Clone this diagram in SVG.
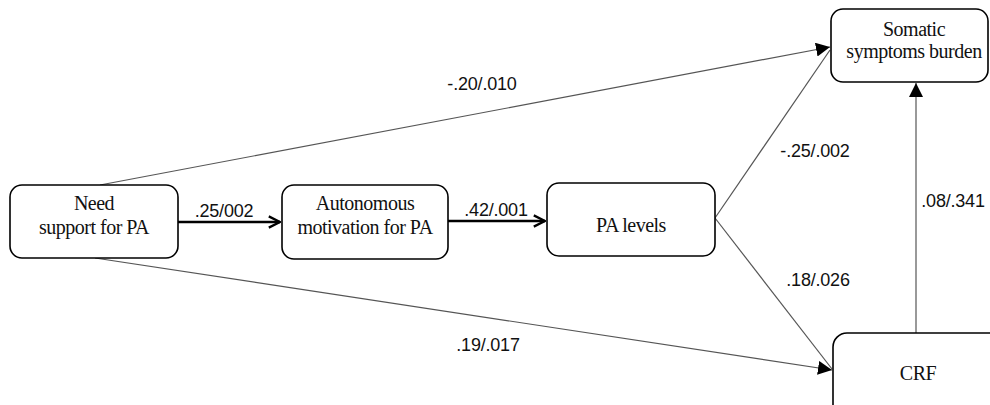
<svg xmlns="http://www.w3.org/2000/svg" width="990" height="405" viewBox="0 0 990 405">
<defs>
<style>
.box{fill:#fff;stroke:#000;stroke-width:1.6}
.nt{font-family:"Liberation Serif","Times New Roman",serif;font-size:20px;letter-spacing:-0.5px;fill:#111;text-anchor:middle}
.lb{font-family:"Liberation Sans",Arial,sans-serif;font-size:18px;letter-spacing:-0.2px;fill:#111;text-anchor:middle}
.thin{stroke:#555;stroke-width:1.2;fill:none}
.thick{stroke:#000;stroke-width:2.4;fill:none}
</style>
<marker id="fh" viewBox="0 0 10 10" refX="10" refY="5" markerWidth="14" markerHeight="14" markerUnits="userSpaceOnUse" orient="auto">
<path d="M0,0 L10,5 L0,10 Z" fill="#000"/>
</marker>
<marker id="oh" viewBox="0 0 10 10" refX="9" refY="5" markerWidth="14" markerHeight="14" markerUnits="userSpaceOnUse" orient="auto">
<path d="M1,1 L9,5 L1,9" fill="none" stroke="#000" stroke-width="1.7"/>
</marker>
</defs>
<rect width="990" height="405" fill="#fff"/>
<g id="connectors">
<line class="thin" x1="100" y1="185" x2="830" y2="47" marker-end="url(#fh)"/>
<line class="thin" x1="715" y1="218" x2="830" y2="50"/>
<line class="thin" x1="95" y1="258" x2="832" y2="370" marker-end="url(#fh)"/>
<line class="thin" x1="715" y1="218" x2="832" y2="369"/>
<line class="thin" x1="916" y1="333" x2="916" y2="83" marker-end="url(#fh)"/>
<line class="thick" x1="178" y1="222" x2="280" y2="222" marker-end="url(#oh)"/>
<line class="thick" x1="448" y1="221" x2="545" y2="221" marker-end="url(#oh)"/>
<text class="lb" x="482" y="90">-.20/.010</text>
<text class="lb" x="224" y="217">.25/002</text>
<text class="lb" x="496" y="216">.42/.001</text>
<text class="lb" x="815" y="157">-.25/.002</text>
<text class="lb" x="818" y="286">.18/.026</text>
<text class="lb" x="953" y="207">.08/.341</text>
<text class="lb" x="488" y="351">.19/.017</text>
</g>
<g id="need">
<rect class="box" x="10" y="185" width="168" height="73" rx="12"/>
<text class="nt" x="94" y="210">Need</text>
<text class="nt" x="94" y="234">support for PA</text>
</g>
<g id="autonomous">
<rect class="box" x="282" y="185" width="166" height="74" rx="12"/>
<text class="nt" x="365" y="210">Autonomous</text>
<text class="nt" x="365" y="234">motivation for PA</text>
</g>
<g id="palevels">
<rect class="box" x="547" y="183" width="168" height="73" rx="12"/>
<text class="nt" x="631" y="232">PA levels</text>
</g>
<g id="somatic">
<rect class="box" x="831" y="9" width="157" height="73" rx="12"/>
<text class="nt" x="914" y="36">Somatic</text>
<text class="nt" x="914" y="58">symptoms burden</text>
</g>
<g id="crf">
<rect class="box" x="833" y="333" width="170" height="90" rx="14"/>
<text class="nt" x="918" y="380">CRF</text>
</g>
</svg>
